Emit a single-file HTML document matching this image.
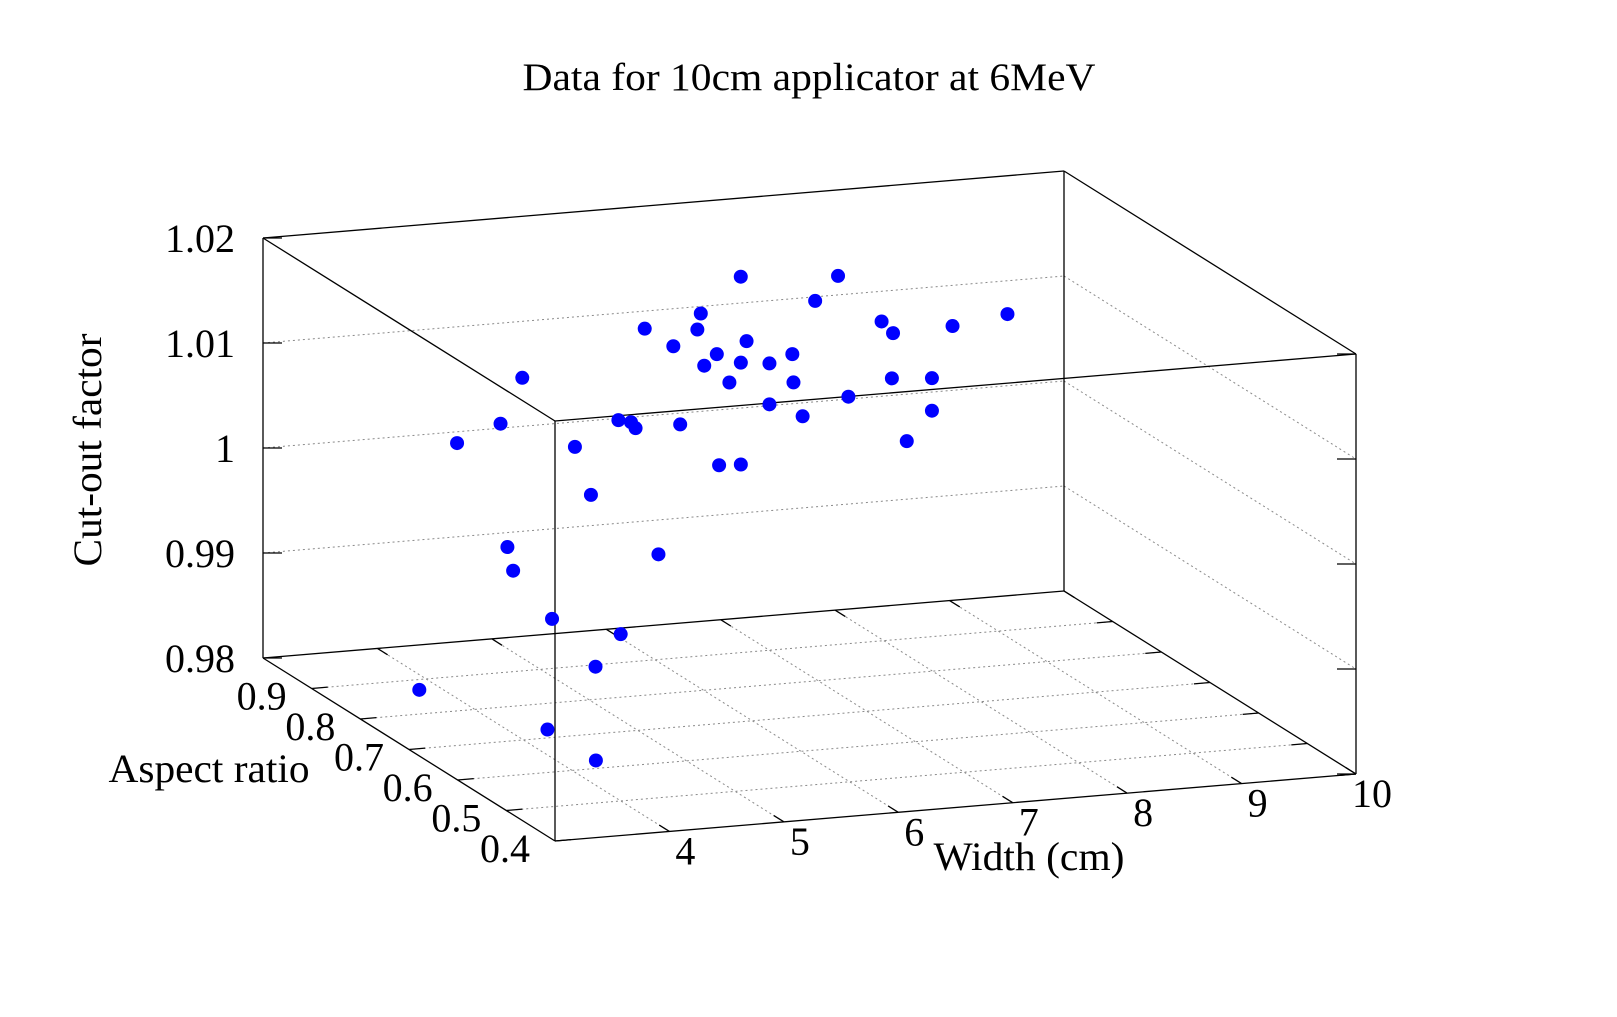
<!DOCTYPE html>
<html><head><meta charset="utf-8"><style>
html,body{margin:0;padding:0;background:#fff;}
svg{display:block;font-family:"Liberation Serif",serif;}
</style></head><body>
<svg id="chart" width="1617" height="1017" viewBox="0 0 1617 1017" xmlns="http://www.w3.org/2000/svg">
<rect width="1617" height="1017" fill="#fff"/>
<text x="809" y="90" font-size="39" text-anchor="middle" textLength="573" lengthAdjust="spacingAndGlyphs">Data for 10cm applicator at 6MeV</text>
<g id="grid"></g>
<g id="box"></g>
<g id="ticks"></g>
<g id="labels"></g>
<g id="points"></g>
<text x="0" y="0" font-size="40" text-anchor="middle" textLength="233" lengthAdjust="spacingAndGlyphs" transform="translate(101,450) rotate(-90)">Cut-out factor</text>
<text x="209" y="782" font-size="40" text-anchor="middle" textLength="201" lengthAdjust="spacingAndGlyphs">Aspect ratio</text>
<text x="1029" y="870" font-size="40" text-anchor="middle" textLength="191" lengthAdjust="spacingAndGlyphs">Width (cm)</text>
</svg>
<script>
const widths = [3.42,3.80,3.99,4.45,4.59,3.86,3.91,4.25,4.85,4.63,3.09,4.21,3.57,5.18,4.83,4.94,4.98,5.37,5.71,5.90,5.06,5.31,5.52,5.55,5.58,5.69,5.80,5.90,5.95,6.75,6.15,6.15,6.35,6.36,6.44,7.40,7.60,6.84,7.13,7.23,7.22,7.35,7.57,7.57,7.75,8.23];
const aspects = [0.7,0.7,0.7,0.7,0.7,0.7,0.7,0.7,0.7,0.7,0.7,0.7,0.45,0.7,0.7,0.7,0.7,0.7,0.7,0.7,0.7,0.7,0.7,0.7,0.7,0.7,0.7,0.7,0.7,0.9,0.7,0.7,0.7,0.7,0.7,0.9,0.9,0.7,0.7,0.7,0.7,0.7,0.7,0.7,0.7,0.7];
const factors = [1.0088,1.0103,1.0145,1.0075,1.0028,0.9985,0.9962,0.9913,0.9893,0.9864,0.9856,0.9808,0.9857,0.9966,1.0097,1.0094,1.0088,1.0088,1.0046,1.0045,1.0182,1.0163,1.0177,1.0192,1.0142,1.0152,1.0124,1.0142,1.0162,1.0158,1.0139,1.0100,1.0146,1.0119,1.0086,1.0129,1.0151,1.0101,1.0170,1.0158,1.0115,1.0054,1.0112,1.0081,1.0160,1.0167];
const widthTicks = [4,5,6,7,8,9,10];
const aspectTicks = [0.4,0.5,0.6,0.7,0.8,0.9];
const aspectTickLabels = ["0.4","0.5","0.6","0.7","0.8","0.9"];
const zTicks = [0.98,0.99,1.00,1.01,1.02];
const zTickLabels = ["0.98","0.99","1","1.01","1.02"];
const W0=3,W1=10,A0=0.4,A1=1.0,Z0=0.98,Z1=1.02;

const NS="http://www.w3.org/2000/svg";
const O=[555,841],U=[801,-67],V=[-292,-183],H=[0,-420];
function proj(w,a,z){
  const u=(w-W0)/(W1-W0),v=(a-A0)/(A1-A0),t=(z-Z0)/(Z1-Z0);
  return [O[0]+u*U[0]+v*V[0]+t*H[0], O[1]+u*U[1]+v*V[1]+t*H[1]];
}
function line(g,p,q,stroke,sw,dash,name){
  const l=document.createElementNS(NS,'line');
  l.setAttribute('x1',p[0]);l.setAttribute('y1',p[1]);l.setAttribute('x2',q[0]);l.setAttribute('y2',q[1]);
  l.setAttribute('stroke',stroke);l.setAttribute('stroke-width',sw);
  if(dash)l.setAttribute('stroke-dasharray',dash);
  
  
  g.appendChild(l);
}
function text(g,x,y,s,anchor,name){
  const t=document.createElementNS(NS,'text');
  t.setAttribute('x',x);t.setAttribute('y',y);t.setAttribute('font-size','40');t.setAttribute('text-anchor',anchor);
  t.textContent=s;
  
  
  g.appendChild(t);
}
const grid=document.getElementById('grid'),box=document.getElementById('box'),ticks=document.getElementById('ticks'),labels=document.getElementById('labels'),pts=document.getElementById('points');
const GC='#8a8a8a',GD='2,3';
widthTicks.forEach(w=>{ if(w<W1) line(grid,proj(w,A0,Z0),proj(w,A1,Z0),GC,1,GD,'grid-width-'+w); });
aspectTicks.forEach(a=>{ if(a>A0) line(grid,proj(W0,a,Z0),proj(W1,a,Z0),GC,1,GD,'grid-aspect-'+a); });
zTicks.forEach(z=>{ if(z>Z0&&z<Z1){
  line(grid,proj(W0,A1,z),proj(W1,A1,z),GC,1,GD,'grid-z-back-'+z);
  line(grid,proj(W1,A1,z),proj(W1,A0,z),GC,1,GD,'grid-z-right-'+z);
}});
const c=(w,a,z)=>proj(w,a,z);
[[Z0],[Z1]].forEach(([z])=>{
  line(box,c(W0,A0,z),c(W1,A0,z),'#000',1.3,null,'box-edge');
  line(box,c(W1,A0,z),c(W1,A1,z),'#000',1.3,null,'box-edge');
  line(box,c(W1,A1,z),c(W0,A1,z),'#000',1.3,null,'box-edge');
  line(box,c(W0,A1,z),c(W0,A0,z),'#000',1.3,null,'box-edge');
});
[[W0,A0],[W1,A0],[W1,A1],[W0,A1]].forEach(([w,a])=>line(box,c(w,a,Z0),c(w,a,Z1),'#000',1.3,null,'box-vertical-edge'));
widthTicks.forEach((w,i)=>{
  const p=proj(w,A0,Z0),q=proj(w,A0+0.035*(A1-A0),Z0);
  line(ticks,p,q,'#000',1.3,null,'width-tick');
  const p2=proj(w,A1,Z0),q2=proj(w,A1-0.035*(A1-A0),Z0);
  line(ticks,p2,q2,'#000',1.3,null,'width-tick-mirror');
  text(labels,p[0]+16,p[1]+33,String(w),'middle','width-tick-label');
});
aspectTicks.forEach((a,i)=>{
  const p=proj(W0,a,Z0),q=proj(W0+0.02*(W1-W0),a,Z0);
  line(ticks,p,q,'#000',1.3,null,'aspect-tick');
  const p2=proj(W1,a,Z0),q2=proj(W1-0.02*(W1-W0),a,Z0);
  line(ticks,p2,q2,'#000',1.3,null,'aspect-tick-mirror');
  text(labels,p[0]-50,p[1]+21,aspectTickLabels[i],'middle','aspect-tick-label');
});
zTicks.forEach((z,i)=>{
  const p=proj(W0,A1,z);
  line(ticks,p,[p[0]+19,p[1]],'#000',1.3,null,'z-tick');
  const p2=proj(W1,A0,z);
  line(ticks,p2,[p2[0]-19,p2[1]],'#000',1.3,null,'z-tick-mirror');
  text(labels,235,p[1]+14,zTickLabels[i],'end','z-tick-label');
});
for(let i=0;i<widths.length;i++){
  const p=proj(widths[i],aspects[i],factors[i]);
  const ci=document.createElementNS(NS,'circle');
  ci.setAttribute('cx',p[0]);ci.setAttribute('cy',p[1]);ci.setAttribute('r',7);ci.setAttribute('fill','#0000ff');
  
  
  pts.appendChild(ci);
}
</script>
</body></html>
